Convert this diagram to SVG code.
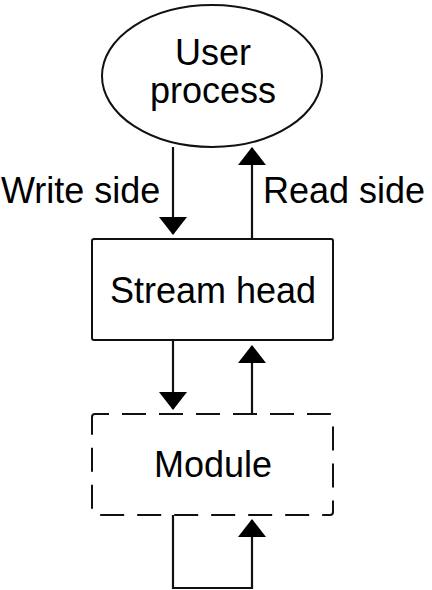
<svg xmlns="http://www.w3.org/2000/svg" width="432" height="590" viewBox="0 0 432 590">
<style>
  .shape { fill: #fff; stroke: #111; stroke-width: 2; }
  .dash { fill: #fff; stroke: #111; stroke-width: 2; stroke-dasharray: 24 13; stroke-dashoffset: 10; }
  .lbl { font-family: "Liberation Sans", Arial, sans-serif; font-size: 36px; fill: #000; }
  .mid { text-anchor: middle; }
  .conn { fill: none; stroke: #111; stroke-width: 2.2; }
</style>
<defs>
  <marker id="arr" viewBox="0 0 18 28" refX="17" refY="14" markerWidth="18" markerHeight="28" markerUnits="userSpaceOnUse" orient="auto">
    <path d="M0,0 L18,14 L0,28 Z" fill="#000"/>
  </marker>
</defs>
<rect width="432" height="590" fill="#fff"/>
<g id="connectors">
  <line class="conn" x1="173" y1="147" x2="173" y2="234" marker-end="url(#arr)"/>
  <line class="conn" x1="252" y1="239" x2="252" y2="148" marker-end="url(#arr)"/>
  <line class="conn" x1="173" y1="340" x2="173" y2="409" marker-end="url(#arr)"/>
  <line class="conn" x1="252" y1="414" x2="252" y2="346" marker-end="url(#arr)"/>
  <path class="conn" d="M173,515 V588 H252 V520" marker-end="url(#arr)"/>
</g>
<g id="user-process">
  <ellipse class="shape" cx="212" cy="76" rx="110" ry="71"/>
  <text class="lbl mid" x="213" y="65">User</text>
  <text class="lbl mid" x="213" y="103">process</text>
</g>
<g id="labels">
  <text class="lbl" x="1" y="203">Write side</text>
  <text class="lbl" x="263" y="203">Read side</text>
</g>
<g id="stream-head">
  <rect class="shape" x="92" y="239" width="241" height="101" rx="2"/>
  <text class="lbl mid" x="213" y="303">Stream head</text>
</g>
<g id="module">
  <rect class="dash" x="92" y="414" width="241" height="101" rx="3"/>
  <text class="lbl mid" x="213" y="477">Module</text>
</g>
</svg>
